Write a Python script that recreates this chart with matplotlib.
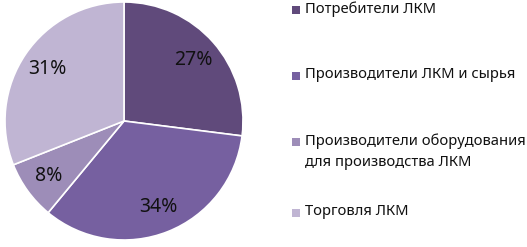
import matplotlib
matplotlib.use('Agg')
import matplotlib.pyplot as plt
from matplotlib.patches import Rectangle

labels = ['Потребители ЛКМ', 'Производители ЛКМ и сырья',
          'Производители оборудования\nдля производства ЛКМ', 'Торговля ЛКМ']
shares = [27, 34, 8, 31]
colors = ['#604A7B', '#7660A0', '#9D8DB8', '#C0B5D3']

plt.rcParams['font.family'] = ['Noto Sans', 'DejaVu Sans']

W, H = 527, 247
fig = plt.figure(figsize=(W / 100, H / 100), dpi=100)
cx, cy, r = 124, 121, 119
ax = fig.add_axes([(cx - r) / W, (H - cy - r) / H, 2 * r / W, 2 * r / H])
wedges, texts, autotexts = ax.pie(
    shares, colors=colors, startangle=90, counterclock=False,
    autopct='%d%%', pctdistance=0.78,
    wedgeprops=dict(edgecolor='white', linewidth=1.2),
    textprops=dict(fontsize=14, color='#111111'))
ax.set_aspect('equal')
ax.set_xlim(-1, 1)
ax.set_ylim(-1, 1)

# legend, drawn by hand to match the spacing
ys = [10, 76, 142, 213]
for lab, col, y in zip(labels, colors, ys):
    fig.patches.append(Rectangle((292 / W, 1 - (y + 4) / H), 8 / W, 8 / H,
                                 facecolor=col, transform=fig.transFigure))
    fig.text(305 / W, 1 - (y - 9) / H, lab, fontsize=10.6, va='top', ha='left',
             color='#111111', linespacing=1.6)

fig.savefig('out.png', dpi=100)
